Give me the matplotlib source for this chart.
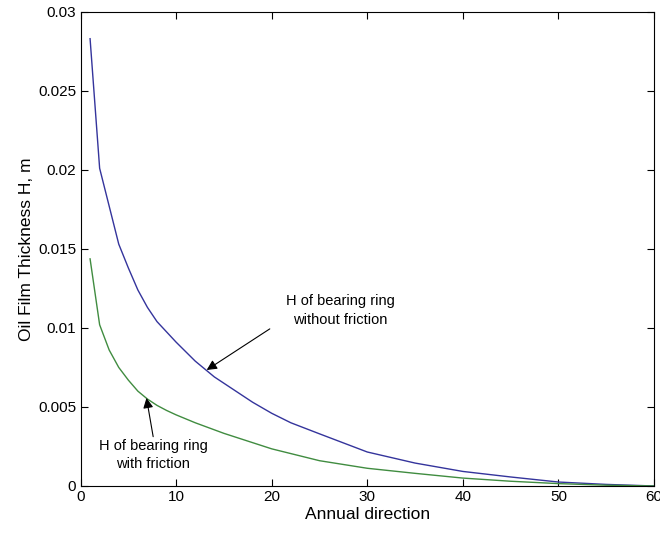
import matplotlib
matplotlib.use("Agg")
import matplotlib.pyplot as plt

# values
x_free = [1, 2, 3, 4, 5, 6, 7, 8, 10, 12, 14, 16, 18, 20, 22, 25, 30, 35, 40, 45, 50, 55, 60]
h_free = [0.0283, 0.0201, 0.0177, 0.0153, 0.0138, 0.0124, 0.0113, 0.0104, 0.0091,
          0.0079, 0.0069, 0.0061, 0.0053, 0.0046, 0.0040, 0.0033, 0.00215, 0.00145,
          0.00092, 0.00057, 0.00025, 0.0001, 0.0]

x_fric = [1, 2, 3, 4, 5, 6, 7, 8, 9, 10, 12, 15, 20, 25, 30, 35, 40, 45, 50, 55, 60]
h_fric = [0.01437, 0.0102, 0.0086, 0.0075, 0.0067, 0.0060, 0.0055, 0.0051, 0.00478,
          0.0045, 0.0040, 0.00333, 0.00235, 0.0016, 0.00112, 0.0008, 0.0005, 0.0003,
          0.00015, 0.00005, 0.0]

yticks = [0, 0.005, 0.01, 0.015, 0.02, 0.025, 0.03]
ytick_labels = ["0", "0.005", "0.01", "0.015", "0.02", "0.025", "0.03"]
xticks = [0, 10, 20, 30, 40, 50, 60]

plt.rcParams["font.family"] = ["Liberation Sans", "DejaVu Sans"]

fig = plt.figure(figsize=(6.6, 5.37), dpi=100)
ax = fig.add_axes([0.122, 0.095, 0.869, 0.883])

ax.plot(x_free, h_free, color="#34349c", linewidth=1.0)
ax.plot(x_fric, h_fric, color="#408c40", linewidth=1.0)

arrow = dict(arrowstyle="-|>", color="k", lw=0.8, mutation_scale=15, shrinkA=0, shrinkB=0)
ax.text(27.2, 0.0111, "H of bearing ring\nwithout friction", ha="center", va="center",
        fontsize=10.5, linespacing=1.4)
ax.annotate("", xy=(13.2, 0.00734), xytext=(19.8, 0.00994), arrowprops=arrow)
ax.text(7.6, 0.00196, "H of bearing ring\nwith friction", ha="center", va="center",
        fontsize=10.5, linespacing=1.4)
ax.annotate("", xy=(6.9, 0.00557), xytext=(7.6, 0.00312), arrowprops=arrow)

ax.set_xlim(0, 60)
ax.set_ylim(0, 0.03)
ax.set_xticks(xticks)
ax.set_yticks(yticks)
ax.set_yticklabels(ytick_labels)
ax.tick_params(direction="in", top=True, right=True, labelsize=11, length=5, width=0.8, pad=3)
ax.set_xlabel("Annual direction", fontsize=12.5, labelpad=2)
ax.set_ylabel("Oil Film Thickness H, m", fontsize=12.5, labelpad=3)
for s in ax.spines.values():
    s.set_linewidth(0.8)

fig.savefig("out.png", dpi=100)
